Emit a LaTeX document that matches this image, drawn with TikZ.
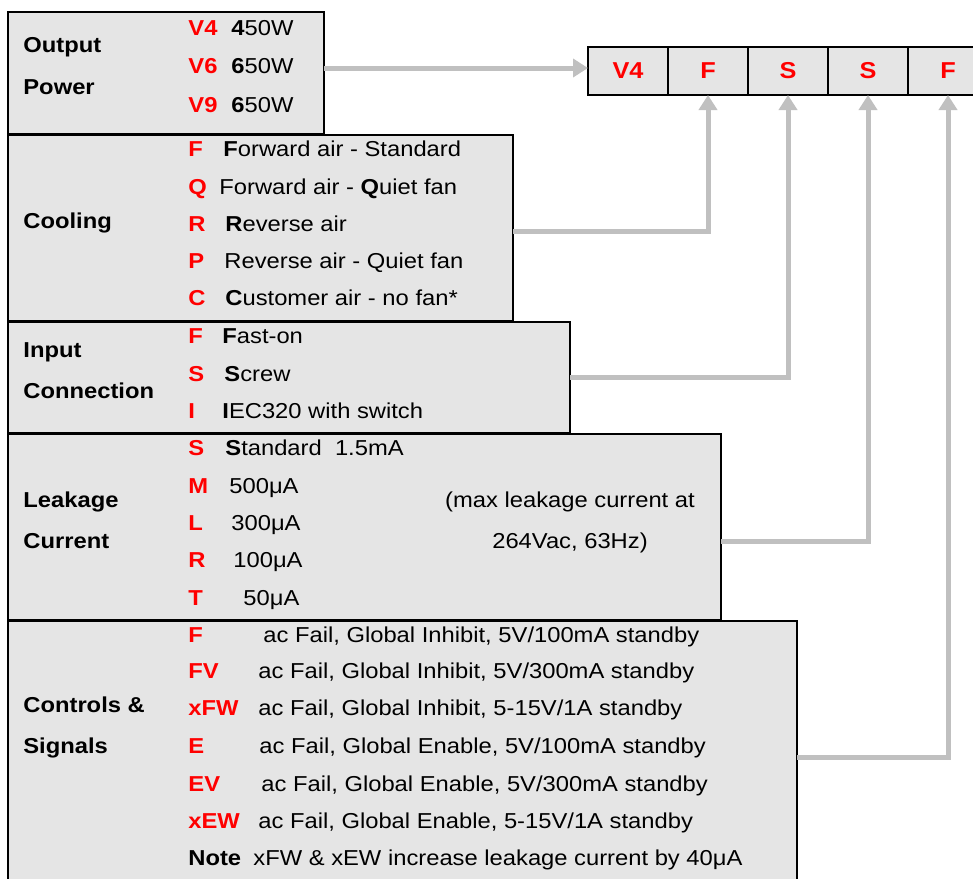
\documentclass[tikz,border=0pt]{standalone}
\usepackage{fontspec}
\setmainfont[FakeStretch=1.1]{Liberation Sans}
\usepackage{tikz}
\usetikzlibrary{arrows.meta, positioning}
\definecolor{codered}{RGB}{255, 0, 0}
\definecolor{boxgray}{RGB}{229, 229, 229}
\definecolor{linkgray}{RGB}{192, 192, 192}

\tikzset{
  optbox/.style={draw=black, fill=boxgray, line width=0.75pt, anchor=north west, inner sep=0pt, outer sep=0pt},
  codecell/.style={draw=black, fill=boxgray, line width=0.6pt, minimum width=40pt, minimum height=24pt, inner sep=0pt, outer sep=0pt, font=\fontsize{11.5}{12}\selectfont\bfseries, text=codered},
  lbl/.style={anchor=west, inner sep=0pt, text height=7.8pt, text depth=0pt, font=\fontsize{10.8}{12}\selectfont},
  grouplbl/.style={lbl, font=\fontsize{10.8}{12}\selectfont\bfseries},
  optcode/.style={grouplbl, text=codered},
  conn/.style={draw=linkgray, line width=2.5pt, -{Triangle[width=9pt,length=7.5pt]}}
}

\begin{document}
\begin{tikzpicture}[x=0.5pt, y=-0.5pt]
  \useasboundingbox (0,0) rectangle (973,878);

  % Output power
  \node[optbox, minimum width=158pt, minimum height=61pt] (pow) at (8,12) {};
  \node[grouplbl] (powA) at (23,45) {Output};
  \node[grouplbl] (powB) at (23,87) {Power};
  \node[optcode] (pV4) at (188,28) {V4};
  \node[lbl] (pV4d) at (231,28) {\textbf{4}50W};
  \node[optcode] (pV6) at (188,66) {V6};
  \node[lbl] (pV6d) at (231,66) {\textbf{6}50W};
  \node[optcode] (pV9) at (188,105) {V9};
  \node[lbl] (pV9d) at (231,105) {\textbf{6}50W};

  % Cooling
  \node[optbox, minimum width=252.5pt, minimum height=93pt] (cool) at (8,135) {};
  \node[grouplbl] (coolA) at (23,221) {Cooling};
  \node[optcode] (cF) at (188,149) {F};
  \node[lbl] (cFd) at (223,149) {\textbf{F}orward air - Standard};
  \node[optcode] (cQ) at (188,187) {Q};
  \node[lbl] (cQd) at (219,187) {Forward air - \textbf{Q}uiet fan};
  \node[optcode] (cR) at (188,224) {R};
  \node[lbl] (cRd) at (225,224) {\textbf{R}everse air};
  \node[optcode] (cP) at (188,261) {P};
  \node[lbl] (cPd) at (224,261) {Reverse air - Quiet fan};
  \node[optcode] (cC) at (188,298) {C};
  \node[lbl] (cCd) at (225,298) {\textbf{C}ustomer air - no fan*};

  % Input connection
  \node[optbox, minimum width=281pt, minimum height=55.5pt] (inp) at (8,322) {};
  \node[grouplbl] (inpA) at (23,350) {Input};
  \node[grouplbl] (inpB) at (23,391) {Connection};
  \node[optcode] (iF) at (188,336) {F};
  \node[lbl] (iFd) at (222,336) {\textbf{F}ast-on};
  \node[optcode] (iS) at (188,374) {S};
  \node[lbl] (iSd) at (224,374) {\textbf{S}crew};
  \node[optcode] (iI) at (188,411) {I};
  \node[lbl] (iId) at (222,411) {\textbf{I}EC320 with switch};

  % Leakage current
  \node[optbox, minimum width=356.5pt, minimum height=93pt] (leak) at (8,434) {};
  \node[grouplbl] (leakA) at (23,500) {Leakage};
  \node[grouplbl] (leakB) at (23,541) {Current};
  \node[optcode] (lS) at (188,448) {S};
  \node[lbl] (lSd) at (225,448) {\textbf{S}tandard\ \ 1.5mA};
  \node[optcode] (lM) at (188,486) {M};
  \node[lbl] (lMd) at (229,486) {500μA};
  \node[optcode] (lL) at (188,523) {L};
  \node[lbl] (lLd) at (231,523) {300μA};
  \node[optcode] (lR) at (188,560) {R};
  \node[lbl] (lRd) at (233,560) {100μA};
  \node[optcode] (lT) at (188,598) {T};
  \node[lbl] (lTd) at (243,598) {50μA};
  \node[lbl, anchor=center] (lNoteA) at (570,500) {(max leakage current at};
  \node[lbl, anchor=center] (lNoteB) at (570,541) {264Vac, 63Hz)};

  % Controls and signals
  \node[optbox, minimum width=394.5pt, minimum height=140pt] (ctl) at (8,621) {};
  \node[grouplbl] (ctlA) at (23,705) {Controls \&};
  \node[grouplbl] (ctlB) at (23,746) {Signals};
  \node[optcode] (sF) at (188,635) {F};
  \node[lbl] (sFd) at (263,635) {ac Fail, Global Inhibit, 5V/100mA standby};
  \node[optcode] (sFV) at (188,671) {FV};
  \node[lbl] (sFVd) at (258,671) {ac Fail, Global Inhibit, 5V/300mA standby};
  \node[optcode] (sxFW) at (188,708) {xFW};
  \node[lbl] (sxFWd) at (258,708) {ac Fail, Global Inhibit, 5-15V/1A standby};
  \node[optcode] (sE) at (188,746) {E};
  \node[lbl] (sEd) at (259,746) {ac Fail, Global Enable, 5V/100mA standby};
  \node[optcode] (sEV) at (188,784) {EV};
  \node[lbl] (sEVd) at (261,784) {ac Fail, Global Enable, 5V/300mA standby};
  \node[optcode] (sxEW) at (188,821) {xEW};
  \node[lbl] (sxEWd) at (258,821) {ac Fail, Global Enable, 5-15V/1A standby};
  \node[grouplbl] (sNote) at (188,858) {Note};
  \node[lbl] (sNoted) at (253,858) {xFW \& xEW increase leakage current by 40μA};

  % Part number
  \node[codecell, anchor=north west] (c1) at (588,47) {V4};
  \node[codecell, right=0pt of c1] (c2) {F};
  \node[codecell, right=0pt of c2] (c3) {S};
  \node[codecell, right=0pt of c3] (c4) {S};
  \node[codecell, right=0pt of c4] (c5) {F};

  % Links
  \draw[conn] ([yshift=1.5pt]pow.east |- c1.west) -- ([yshift=1.5pt]c1.west);
  \draw[conn] ([yshift=-1.5pt]cool.east) -| (c2.south);
  \draw[conn] (inp.east) -| (c3.south);
  \draw[conn] ([yshift=-7pt]leak.east) -| (c4.south);
  \draw[conn] ([yshift=2pt]ctl.east) -| (c5.south);
\end{tikzpicture}
\end{document}
